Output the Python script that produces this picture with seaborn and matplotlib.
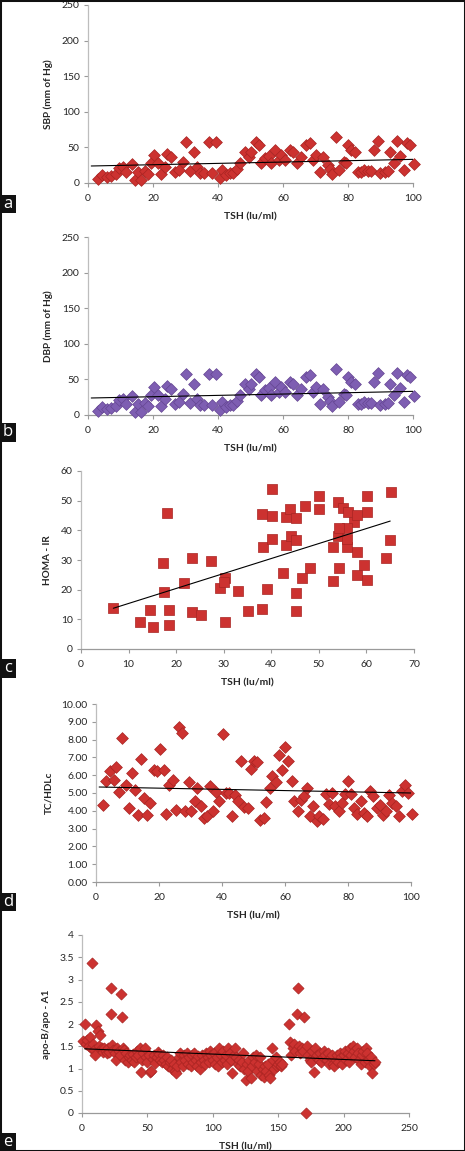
import numpy as np
import pandas as pd
import matplotlib
matplotlib.use("Agg")
import matplotlib.pyplot as plt
import seaborn as sns
from matplotlib.patches import Rectangle
from matplotlib.ticker import FuncFormatter, MultipleLocator

# ---------------- data ----------------
tsh_bp = [3, 4.4, 5.8, 7.2, 8.5, 9.4, 10.8, 11.8, 13.4, 14.4, 15.4, 16.4, 17.6, 18.6, 19.5,
          20.3, 21.5, 22.6, 23.6, 24.4, 25.6, 26.7, 28, 29.2, 30.3, 31.5, 32.6, 33.5, 34.4,
          35.6, 37.2, 38.3, 39.5, 40.5, 41.3, 42.4, 43.6, 44.6, 45.8, 46.8, 48.2, 49.5, 50.3,
          51.6, 52.6, 53.3, 54.4, 55.7, 56.4, 57.4, 58.8, 59.5, 60.5, 62, 63, 64.3, 65.6, 67,
          68.2, 69.2, 70, 71.3, 72.3, 73.8, 74.6, 75.2, 76.2, 77.2, 78.7, 79.5, 80, 81, 82, 83,
          84, 85, 86, 87, 87.9, 89.2, 89.9, 91.3, 92.3, 93, 94, 95, 95.9, 97.1, 98.1, 99.2, 100.2]
sbp = [5, 11, 9, 10, 13, 21, 23, 15, 27, 4, 15, 4, 17, 13, 28,
       39, 28, 13, 23, 41, 37, 16, 18, 30, 58, 17, 44, 23, 14,
       14, 57, 14, 58, 7, 18, 11, 14, 14, 19, 28, 44, 37, 44,
       57, 53, 28, 35, 38, 28, 46, 33, 39, 33, 47, 44, 28, 37, 53,
       56, 32, 39, 15, 37, 25, 19, 13, 64, 18, 29, 28, 54, 47, 43, 16,
       16, 18, 17, 17, 46, 59, 14, 16, 17, 44, 28, 59, 38, 18, 56, 53, 27]
dbp = list(sbp)

tsh_homa = [6.7, 12.5, 14.4, 15.2, 17.3, 17.4, 18.1, 18.5, 18.4, 21.7, 23.4, 23.3, 25.2, 27.3,
            29.2, 30.2, 30.0, 30.2, 33.1, 35.2, 38.1, 38.0, 40.1, 40.1, 38.3, 40.1, 39.2, 42.4,
            45.1, 45.1, 46.4, 48.1, 43.1, 43.9, 45.3, 43.1, 44.1, 45.3, 47.1, 50.1, 50.1, 53.0,
            53.0, 54.1, 54.1, 54.3, 55.1, 56.1, 57.4, 58.1, 56.0, 55.9, 58.1, 56.0, 54.3, 58.0,
            59.5, 60.1, 60.1, 60.2, 64.1, 65.0, 65.1]
homa_ir = [13.7, 9.0, 13.1, 7.3, 29.1, 19.3, 45.7, 13.1, 8.1, 22.1, 30.6, 12.6, 11.5, 29.7,
           20.7, 24.0, 22.5, 9.2, 19.6, 12.8, 13.4, 45.4, 53.8, 44.8, 34.5, 37.1, 20.2, 25.5,
           12.9, 19.0, 24.0, 27.2, 44.6, 47.1, 44.0, 35.1, 38.2, 36.7, 48.2, 51.7, 47.2, 22.9,
           34.5, 49.6, 38.1, 27.2, 47.6, 46.1, 42.7, 45.2, 40.7, 34.5, 32.8, 37.1, 40.7, 24.9,
           28.3, 23.3, 51.7, 46.3, 30.8, 36.7, 53.0]

tsh_tc = [2.2, 3.3, 4.3, 5.6, 6.5, 7.4, 8.4, 9.4, 10.4, 11.4, 12.4, 13.3, 14.4, 15.3, 16.3,
          17.3, 18.3, 19.3, 20.4, 21.5, 22.3, 23.3, 24.3, 25.3, 26.3, 27.3, 28.3, 29.4, 30.3,
          31.3, 32.2, 33.3, 34.2, 35.2, 36.3, 37.3, 38.2, 39.2, 40.3, 41.2, 42.2, 43.2, 44.2,
          45, 46.1, 47.1, 48.1, 49.2, 50.1, 51.1, 52.1, 53.2, 54, 55.1, 56, 57.1, 58, 59.1, 60,
          61.1, 62.2, 63, 64.1, 65.1, 66.1, 67, 68, 69, 70.1, 70.9, 72, 72.9, 74, 74.9, 75.9,
          77, 78, 79, 80.1, 81, 82, 83, 84, 85.1, 85.9, 87, 88, 89.1, 90, 91, 92.1, 93.1, 94.1,
          95.1, 96.1, 97, 98.1, 99, 100.2]
tc_hdl = [4.34, 5.69, 6.25, 5.75, 6.44, 5.04, 8.09, 5.47, 4.16, 6.12, 5.19, 3.78, 6.91, 4.72,
          3.78, 4.44, 6.31, 6.22, 7.49, 6.31, 3.82, 5.47, 5.75, 4.06, 8.69, 8.37, 3.97, 5.6,
          3.97, 4.53, 5.28, 4.25, 3.6, 3.69, 5.37, 3.97, 5.06, 4.53, 8.31, 5.0, 5.0, 3.69,
          4.91, 4.57, 6.82, 4.19, 4.16, 6.35, 6.82, 6.74, 3.5, 3.6, 4.48, 5.28, 5.94, 5.6,
          7.15, 6.31, 7.57, 6.82, 5.69, 4.57, 4.01, 4.63, 4.81, 5.28, 3.69, 4.25, 3.45, 3.69,
          3.56, 4.94, 4.38, 5.0, 4.25, 3.97, 4.44, 4.94, 5.66, 4.94, 4.16, 3.82, 4.57, 3.88,
          3.69, 5.13, 4.81, 4.16, 4.31, 3.78, 3.97, 4.91, 4.44, 4.25, 3.69, 5.09, 5.47, 5.0, 3.82]

tsh_apo = [1, 2, 3, 4, 5, 6, 7, 8, 8.5, 9, 10, 11, 12, 13, 14, 15, 16, 17, 18, 19, 20,
           21, 22, 22.5, 23, 24, 25, 26, 27, 28, 29, 30, 30.5, 31, 32, 33, 34, 35, 36, 37, 38, 39, 40,
           41, 42, 43, 44, 45, 46, 47, 48, 49, 50, 51, 52, 53, 54, 55, 56, 57, 58, 59, 60,
           61, 62, 63, 64, 65, 66, 67, 68, 69, 70, 71, 72, 73, 74, 75, 76, 77, 78, 79, 80,
           81, 82, 83, 84, 85, 86, 87, 88, 89, 90, 91, 92, 93, 94, 95, 96, 97, 98, 99, 100,
           101, 102, 103, 104, 105, 106, 107, 108, 109, 110, 111, 112, 113, 114, 115, 116, 117, 118, 119, 120,
           121, 122, 123, 124, 125, 126, 127, 128, 129, 130, 131, 132, 133, 134, 135, 136, 137, 138, 139, 140,
           141, 142, 143, 144, 145, 146,
           147, 148, 149, 150, 151, 152, 153, 158, 159, 160, 161, 162, 163, 164, 165, 166, 167, 168, 169,
           170, 171, 172, 173, 174, 175, 176, 177, 178, 179, 180,
           181, 182, 183, 184, 185, 186, 187, 188, 189, 190, 191, 192, 193, 194, 195, 196, 197, 198, 199, 200,
           201, 202, 203, 204, 205, 206, 207, 208, 209, 210, 211, 212, 213, 214, 215, 216, 217, 218, 219, 220,
           221, 222, 223, 224]
apo_ratio = [1.62, 2.0, 1.55, 1.65, 1.5, 1.7, 1.45, 3.38, 1.55, 1.42, 1.3, 1.97, 1.85, 1.5, 1.75, 1.45,
             1.38, 1.45, 1.4, 1.35, 1.47,
             1.38, 2.23, 2.8, 1.52, 1.42, 1.35, 1.18, 1.45, 1.4, 1.3, 2.68, 2.15, 1.47, 1.42, 1.2, 1.35,
             1.15, 1.25, 1.3, 1.2, 1.32, 1.15,
             1.25, 1.4, 1.3, 1.45, 0.92, 1.2, 1.35, 1.45, 1.25, 1.15, 1.3, 0.93, 0.95, 1.22, 1.3, 1.12,
             1.25, 1.38, 1.32, 1.2,
             1.15, 1.3, 1.2, 1.1, 1.25, 1.05, 1.15, 1.2, 1.0, 1.1, 0.95, 0.9, 1.05, 1.25, 1.35, 1.15,
             1.05, 1.3, 1.2, 1.35,
             1.1, 1.25, 1.05, 1.3, 1.15, 1.35, 1.2, 1.05, 1.28, 1.0, 1.15, 1.3, 1.2, 1.1, 1.35, 1.25,
             1.15, 1.4, 1.3, 1.2,
             1.35, 1.1, 1.25, 1.05, 1.45, 1.3, 1.15, 1.4, 1.2, 1.3, 1.1, 1.45, 1.35, 1.2, 0.9, 1.3,
             1.45, 1.25, 1.1, 1.2,
             1.05, 1.15, 1.35, 1.0, 0.75, 1.1, 0.95, 1.2, 0.78, 1.05, 1.25, 1.15, 1.3, 0.95, 1.1, 1.25,
             0.85, 1.0, 0.8, 1.05,
             0.95, 1.1, 0.85, 0.78, 1.45, 1.2,
             1.0, 1.25, 1.05, 1.1, 1.15, 1.05, 1.1, 2.0, 1.6, 1.3, 1.45, 1.55, 1.4, 2.23, 2.8, 1.5,
             1.35, 1.45, 1.4,
             2.15, 0.0, 1.5, 1.3, 1.2, 1.15, 1.4, 0.92, 1.45, 1.25, 1.3,
             1.2, 1.35, 1.15, 1.25, 1.4, 1.3, 1.2, 1.35, 1.1, 1.25, 1.3, 1.1, 1.05, 1.2, 1.3, 1.15,
             1.35, 1.25, 1.1, 1.3,
             1.4, 1.2, 1.35, 1.15, 1.45, 1.3, 1.5, 1.4, 1.25, 1.45, 1.35, 1.2, 1.1, 1.3, 1.4, 1.15,
             1.45, 1.35, 1.2, 1.05,
             1.25, 0.9, 1.1, 1.15]

# linear trend lines as printed on the chart: (x start, x end, intercept, slope)
trend_a = (1.0, 100.0, 23.8, 0.094)
trend_b = (1.0, 100.0, 23.8, 0.094)
trend_c = (6.8, 65.0, 10.3, 0.505)
trend_d = (1.0, 100.0, 5.34, -0.0034)
trend_e = (2.0, 224.0, 1.445, -0.00121)

x_label = "TSH (lu/ml)"
y_labels = ["SBP (mm of Hg)", "DBP (mm of Hg)", "HOMA - IR", "TC/HDLc", "apo-B/apo - A1"]
panel_letters = ["a", "b", "c", "d", "e"]

# ---------------- styling ----------------
sns.set_theme(style="white")
plt.rcParams["font.family"] = ["Lato", "DejaVu Sans"]

RED = "#cc3230"
RED_EDGE = "#a82422"
PURPLE = "#7e5eb2"
PURPLE_EDGE = "#654693"
TEXT = "#262626"

W, H = 465, 1151
fig = plt.figure(figsize=(W / 100, H / 100), dpi=100)


def add_ax(left, right, top, bottom):
    return fig.add_axes([left / W, 1 - bottom / H, (right - left) / W, (bottom - top) / H])


def style_ax(ax, xmax, xstep, ymax, ystep, yfmt, ylabel):
    ax.set_xlim(0, xmax)
    ax.set_ylim(0, ymax)
    ax.xaxis.set_major_locator(MultipleLocator(xstep))
    ax.yaxis.set_major_locator(MultipleLocator(ystep))
    ax.yaxis.set_major_formatter(FuncFormatter(yfmt))
    ax.xaxis.set_major_formatter(FuncFormatter(lambda v, p: f"{v:g}"))
    for s in ["top", "right"]:
        ax.spines[s].set_visible(False)
    ax.spines["left"].set_color("#bdbdbd")
    ax.spines["bottom"].set_color("#9a9a9a")
    ax.spines["left"].set_linewidth(0.9)
    ax.spines["bottom"].set_linewidth(0.9)
    ax.tick_params(axis="both", which="major", direction="out", length=3, width=0.8,
                   colors="#9a9a9a", labelcolor=TEXT, labelsize=7.5, pad=3,
                   left=True, bottom=True)
    ax.tick_params(axis="x", pad=5)
    ax.set_xlabel(x_label, fontsize=7.5, fontweight="bold", color=TEXT, labelpad=7)
    ax.set_ylabel(ylabel, fontsize=7.2, fontweight="bold", color=TEXT, labelpad=6)
    ax.set_facecolor("white")


def scatter_trend(ax, x, y, trend, marker, size, color, edge):
    df = pd.DataFrame({"x": x, "y": y})
    sns.scatterplot(data=df, x="x", y="y", ax=ax, marker=marker, s=size, color=color,
                    edgecolor=edge, linewidth=0.5, clip_on=False, zorder=3)
    x0, x1, b0, b1 = trend
    tl = pd.DataFrame({"x": [x0, x1], "y": [b0 + b1 * x0, b0 + b1 * x1]})
    sns.lineplot(data=tl, x="x", y="y", ax=ax, color="black", lw=0.8, zorder=4)


fmt_int = lambda v, p: f"{v:g}"
fmt_2f = lambda v, p: f"{v:.2f}"

# panel a
ax = add_ax(88, 413, 5, 183)
scatter_trend(ax, tsh_bp, sbp, trend_a, "D", 36, RED, RED_EDGE)
style_ax(ax, 100, 20, 250, 50, fmt_int, y_labels[0])

# panel b
ax = add_ax(88, 413, 237, 415)
scatter_trend(ax, tsh_bp, dbp, trend_b, "D", 36, PURPLE, PURPLE_EDGE)
style_ax(ax, 100, 20, 250, 50, fmt_int, y_labels[1])

# panel c
ax = add_ax(81, 414, 471, 649)
scatter_trend(ax, tsh_homa, homa_ir, trend_c, "s", 52, RED, RED_EDGE)
style_ax(ax, 70, 10, 60, 10, fmt_int, y_labels[2])

# panel d
ax = add_ax(96, 411, 704, 882)
scatter_trend(ax, tsh_tc, tc_hdl, trend_d, "D", 36, RED, RED_EDGE)
style_ax(ax, 100, 20, 10, 1, fmt_2f, y_labels[3])

# panel e
ax = add_ax(82, 409, 935, 1113)
scatter_trend(ax, tsh_apo, apo_ratio, trend_e, "D", 32, RED, RED_EDGE)
style_ax(ax, 250, 50, 4, 0.5, fmt_int, y_labels[4])

# panel letter boxes
boxes = [(195, 213), (423, 442), (659, 678), (893, 911), (1133, 1151)]
for letter, (t, b) in zip(panel_letters, boxes):
    fig.patches.append(Rectangle((0, 1 - b / H), 16 / W, (b - t) / H, transform=fig.transFigure,
                                 facecolor="#111111", edgecolor="none", zorder=10))
    fig.text(8 / W, 1 - (t + b) / 2 / H, letter, color="white", fontsize=12,
             ha="center", va="center", family=["Open Sans", "DejaVu Sans"], zorder=11)

# outer border
fig.patches.append(Rectangle((0, 0), 1, 1, transform=fig.transFigure, fill=False,
                             edgecolor="#111111", linewidth=2.2, zorder=12))

fig.savefig("out.png", dpi=100, facecolor="white")
